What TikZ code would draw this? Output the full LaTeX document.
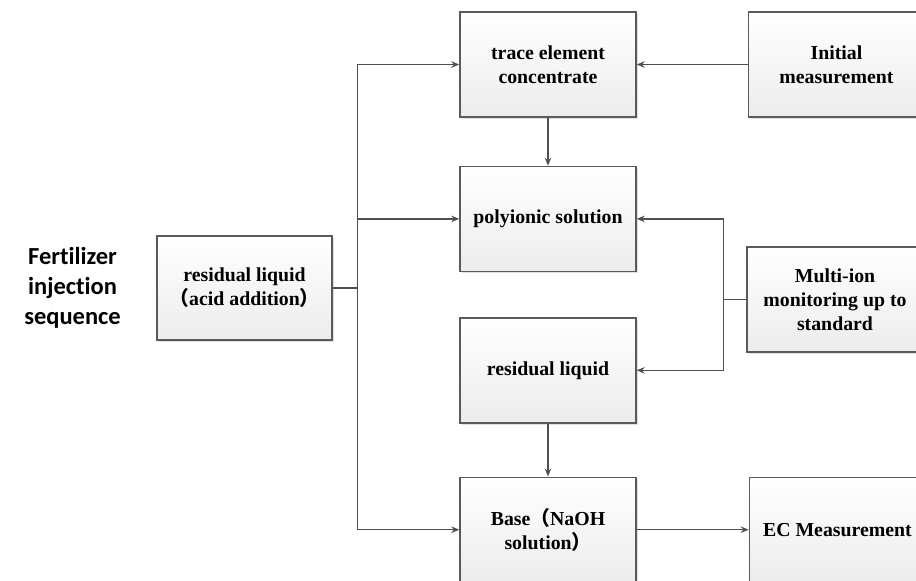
\documentclass[tikz,border=0pt]{standalone}
\usepackage{fontspec}
\setmainfont{Liberation Serif}
\newfontfamily\titlefont[Ligatures=NoCommon]{Carlito}
\newfontfamily\cjkfont{Noto Sans CJK SC}
\usetikzlibrary{arrows.meta, positioning, calc, shadows}
\definecolor{LineGray}{RGB}{80, 80, 80}
\definecolor{BoxEdge}{RGB}{90, 90, 90}
\definecolor{BoxBottom}{RGB}{236, 236, 236}
\newcommand{\zlp}{{\cjkfont （}}
\newcommand{\zrp}{{\cjkfont ）}}

\begin{document}
\begin{tikzpicture}[
  x=1pt, y=-1pt,
  box/.style={draw=BoxEdge, line width=1.4pt, top color=white, bottom color=BoxBottom,
    drop shadow={shadow xshift=2pt, shadow yshift=-2pt, fill=black!12, opacity=1},
    minimum width=176pt, minimum height=105pt, align=center, inner sep=4pt,
    font=\bfseries\fontsize{19.8pt}{24pt}\selectfont},
  title/.style={align=center, font=\titlefont\bfseries\fontsize{24.5pt}{30pt}\selectfont},
  line/.style={draw=LineGray, line width=1.4pt},
  arrow/.style={line, -{Stealth[length=8pt, width=6.5pt]}}
]
  \useasboundingbox (0,0) rectangle (916,581);
  \clip (0,0) rectangle (916,581);

  \node[title] (seq) at (72.5,288) {Fertilizer\\injection\\sequence};
  \node[box, minimum width=175pt, minimum height=104pt] (acid) at (244.5,288) {residual liquid\\\zlp acid addition\zrp};

  \node[box] (trace) at (548,64.5) {trace element\\concentrate};
  \node[box, right=111pt of trace] (initial) {Initial\\measurement};
  \node[box, below=48pt of trace] (poly) {polyionic solution};
  \node[box, below=45pt of poly] (resid) {residual liquid};
  \node[box, below=53pt of resid] (base) {Base\zlp NaOH\\solution\zrp};
  \node[box, right=112pt of base] (ec) {EC Measurement};
  \node[box] (multi) at (835,299.5) {Multi-ion\\monitoring up to\\standard};

  \coordinate (split) at ($(acid.east)+(25pt,0)$);
  \coordinate (mjoin) at ($(multi.west)+(-23pt,0)$);

  \draw[line] (acid.east) -- (split);
  \draw[arrow] (split) |- (trace.west);
  \draw[arrow] (split) |- (poly.west);
  \draw[arrow] (split) |- (base.west);

  \draw[arrow] (initial) -- (trace);
  \draw[arrow] (trace) -- (poly);
  \draw[arrow] (resid) -- (base);
  \draw[arrow] (base) -- (ec);

  \draw[line] (multi.west) -- (mjoin);
  \draw[arrow] (mjoin) |- (poly.east);
  \draw[arrow] (mjoin) |- (resid.east);
\end{tikzpicture}
\end{document}
